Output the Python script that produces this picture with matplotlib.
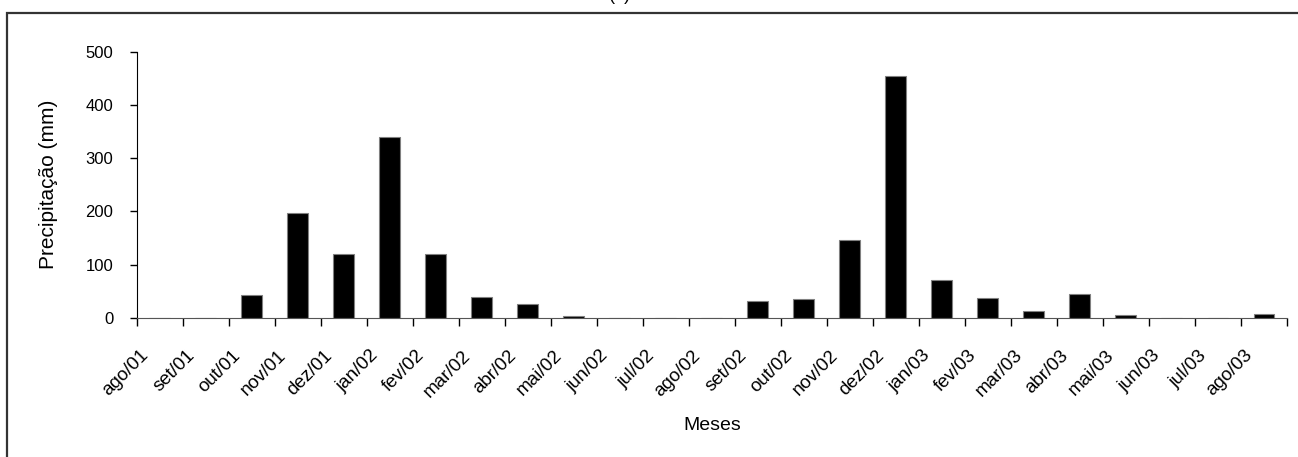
import numpy as np
import matplotlib
matplotlib.use('Agg')
import matplotlib.pyplot as plt
from matplotlib.patches import Rectangle
from matplotlib.transforms import ScaledTranslation

plt.rcParams['font.family'] = ['Liberation Sans', 'DejaVu Sans']

# monthly precipitation, ago/01 .. ago/03
months = ['ago/01', 'set/01', 'out/01', 'nov/01', 'dez/01', 'jan/02', 'fev/02',
          'mar/02', 'abr/02', 'mai/02', 'jun/02', 'jul/02', 'ago/02', 'set/02',
          'out/02', 'nov/02', 'dez/02', 'jan/03', 'fev/03', 'mar/03', 'abr/03',
          'mai/03', 'jun/03', 'jul/03', 'ago/03']
precip = [0, 0, 43, 196, 119, 339, 120, 38, 26, 3, 0, 0, 0, 32,
          35, 146, 454, 70, 37, 13, 45, 5, 0, 0, 7]
yticks = [0, 100, 200, 300, 400, 500]

fig = plt.figure(figsize=(12.98, 4.57), dpi=100)
ax = fig.add_axes([0.1055, 0.3048, 0.886, 0.582])

x = np.arange(len(months))
ax.bar(x, precip, width=0.455, color='black', edgecolor='#808080', linewidth=0.8,
       zorder=3)

ax.set_xlim(-0.5, len(months) - 0.5)
ax.set_ylim(0, 500)
ax.set_yticks(yticks)
ax.tick_params(axis='y', direction='out', length=5, width=1, pad=12, labelsize=12)

# Excel style: tick marks between categories, labels at centres
ax.set_xticks(np.arange(-0.5, len(months), 1))
ax.set_xticklabels([])
ax.tick_params(axis='x', which='major', direction='out', length=6, width=1)
ax.set_xticks(x, minor=True)
ax.set_xticklabels(months, minor=True, rotation=45, ha='right', va='top',
                   rotation_mode='anchor', fontsize=13.5)
ax.tick_params(axis='x', which='minor', length=0, pad=21)
shift = ScaledTranslation(-20 / 100, 0, fig.dpi_scale_trans)
for lab in ax.get_xticklabels(minor=True):
    lab.set_transform(lab.get_transform() + shift)

for s in ['top', 'right']:
    ax.spines[s].set_visible(False)
ax.spines['left'].set_color('black')
ax.spines['bottom'].set_color('#555555')

ax.set_ylabel('Precipitação (mm)', fontsize=15, labelpad=20)
ax.set_xlabel('Meses', fontsize=14, labelpad=12)

# outer chart frame, cropped by the picture edges
fig.patches.append(Rectangle((7 / 1298, -0.05), 1.05, 1.05 - 13 / 457,
                             transform=fig.transFigure, fill=False,
                             edgecolor='#333333', linewidth=1.6))
fig.text(620 / 1298, 1.0, '(b)', ha='center', va='baseline', fontsize=13)

fig.savefig('out.png', dpi=100)
